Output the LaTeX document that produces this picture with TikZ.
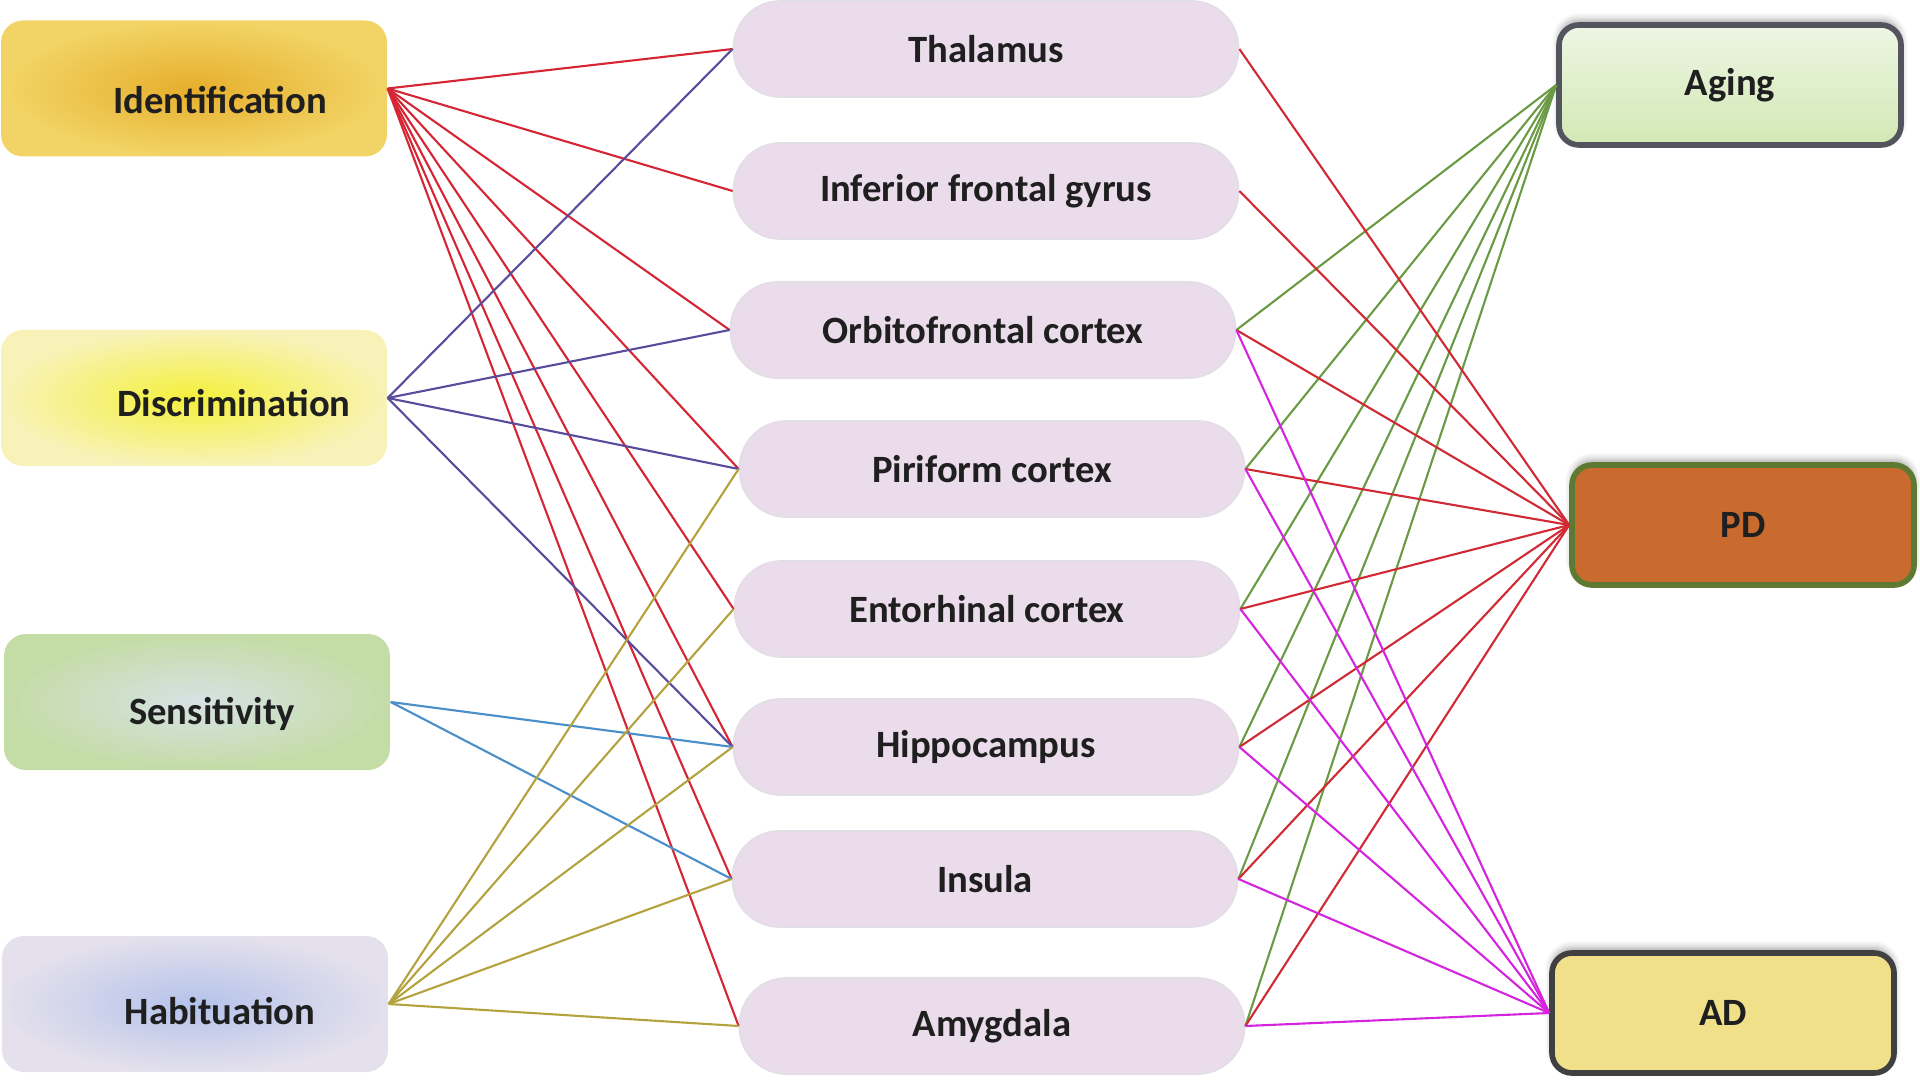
\documentclass[tikz,border=0pt]{standalone}
\usepackage{fontspec}
\setmainfont{Carlito}
\usetikzlibrary{shadows.blur}
\definecolor{identin}{HTML}{E6AE2C}
\definecolor{identout}{HTML}{F2D466}
\definecolor{discrin}{HTML}{F4F03A}
\definecolor{discrout}{HTML}{F8F2B8}
\definecolor{sensin}{HTML}{D6E2E4}
\definecolor{sensout}{HTML}{C4DCA6}
\definecolor{habitin}{HTML}{B4C2EA}
\definecolor{habitout}{HTML}{E4E0EC}
\definecolor{regionfill}{HTML}{EBDCEC}
\definecolor{regionedge}{HTML}{E2DEE6}
\definecolor{agingtop}{HTML}{EEF6E4}
\definecolor{agingbot}{HTML}{D2E8B4}
\definecolor{agingedge}{HTML}{54545E}
\definecolor{pdfill}{HTML}{C96B2E}
\definecolor{pdedge}{HTML}{5E7A32}
\definecolor{adfill}{HTML}{F0E089}
\definecolor{identline}{HTML}{D42634}
\definecolor{discrline}{HTML}{5A4C9C}
\definecolor{sensline}{HTML}{4A8ECA}
\definecolor{habitline}{HTML}{B4A23E}
\definecolor{agingline}{HTML}{6A9A44}
\definecolor{pdline}{HTML}{D02A34}
\definecolor{adline}{HTML}{D424DE}
\begin{document}
\begin{tikzpicture}[
    font=\fontsize{11}{13}\selectfont\bfseries,
    leftbox/.style={rectangle, rounded corners=0.22cm, minimum width=3.86cm, minimum height=1.36cm, text=black!88},
    region/.style={rectangle, rounded corners=0.47cm, minimum width=5.05cm, minimum height=0.96cm, fill=regionfill, draw=regionedge, line width=0.5pt, text=black!88},
    rightbox/.style={rectangle, rounded corners=0.2cm, minimum width=3.42cm, minimum height=1.2cm, line width=1.6pt, text=black!88, blur shadow={shadow xshift=0pt, shadow yshift=1.5pt, shadow opacity=35}},
    link/.style={line width=0.6pt}
  ]
    \useasboundingbox (0,0) rectangle (19.2,-10.83);

    \node[leftbox, inner color=identin, outer color=identout] (ident) at (1.94,-0.885) {\hspace*{0.52cm}\raisebox{-0.12cm}[\height][\depth]{Identification}};
    \node[leftbox, inner color=discrin, outer color=discrout] (discr) at (1.94,-3.98) {\hspace*{0.8cm}\raisebox{-0.05cm}[\height][\depth]{Discrimination}};
    \node[leftbox, inner color=sensin, outer color=sensout] (sens) at (1.97,-7.02) {\hspace*{0.3cm}\raisebox{-0.12cm}[\height][\depth]{Sensitivity}};
    \node[leftbox, inner color=habitin, outer color=habitout] (habit) at (1.95,-10.04) {\hspace*{0.5cm}\raisebox{-0.07cm}[\height][\depth]{Habituation}};

    \node[region] (thal) at (9.86,-0.49) {Thalamus};
    \node[region] (ifg) at (9.86,-1.91) {Inferior frontal gyrus};
    \node[region] (ofc) at (9.83,-3.30) {Orbitofrontal cortex};
    \node[region] (pir) at (9.92,-4.69) {Piriform cortex};
    \node[region] (ent) at (9.87,-6.09) {Entorhinal cortex};
    \node[region] (hip) at (9.86,-7.47) {Hippocampus};
    \node[region] (ins) at (9.85,-8.79) {Insula};
    \node[region] (amy) at (9.92,-10.26) {Amygdala};

    \node[rightbox, top color=agingtop, bottom color=agingbot, draw=agingedge] (aging) at (17.30,-0.85) {Aging};
    \node[rightbox, fill=pdfill, draw=pdedge] (pd) at (17.43,-5.25) {PD};
    \node[rightbox, fill=adfill, draw=black!75] (ad) at (17.23,-10.13) {AD};

    \draw[link, identline] (ident.east) -- (thal.west);
    \draw[link, identline] (ident.east) -- (ifg.west);
    \draw[link, identline] (ident.east) -- (ofc.west);
    \draw[link, identline] (ident.east) -- (pir.west);
    \draw[link, identline] (ident.east) -- (ent.west);
    \draw[link, identline] (ident.east) -- (hip.west);
    \draw[link, identline] (ident.east) -- (ins.west);
    \draw[link, identline] (ident.east) -- (amy.west);

    \draw[link, discrline] (discr.east) -- (thal.west);
    \draw[link, discrline] (discr.east) -- (ofc.west);
    \draw[link, discrline] (discr.east) -- (pir.west);
    \draw[link, discrline] (discr.east) -- (hip.west);

    \draw[link, sensline] (sens.east) -- (hip.west);
    \draw[link, sensline] (sens.east) -- (ins.west);

    \draw[link, habitline] (habit.east) -- (pir.west);
    \draw[link, habitline] (habit.east) -- (ent.west);
    \draw[link, habitline] (habit.east) -- (hip.west);
    \draw[link, habitline] (habit.east) -- (ins.west);
    \draw[link, habitline] (habit.east) -- (amy.west);

    \draw[link, agingline] (ofc.east) -- (aging.west);
    \draw[link, agingline] (pir.east) -- (aging.west);
    \draw[link, agingline] (ent.east) -- (aging.west);
    \draw[link, agingline] (hip.east) -- (aging.west);
    \draw[link, agingline] (ins.east) -- (aging.west);
    \draw[link, agingline] (amy.east) -- (aging.west);

    \draw[link, pdline] (thal.east) -- (pd.west);
    \draw[link, pdline] (ifg.east) -- (pd.west);
    \draw[link, pdline] (ofc.east) -- (pd.west);
    \draw[link, pdline] (pir.east) -- (pd.west);
    \draw[link, pdline] (ent.east) -- (pd.west);
    \draw[link, pdline] (hip.east) -- (pd.west);
    \draw[link, pdline] (ins.east) -- (pd.west);
    \draw[link, pdline] (amy.east) -- (pd.west);

    \draw[link, adline] (ofc.east) -- (ad.west);
    \draw[link, adline] (pir.east) -- (ad.west);
    \draw[link, adline] (ent.east) -- (ad.west);
    \draw[link, adline] (hip.east) -- (ad.west);
    \draw[link, adline] (ins.east) -- (ad.west);
    \draw[link, adline] (amy.east) -- (ad.west);
\end{tikzpicture}
\end{document}
